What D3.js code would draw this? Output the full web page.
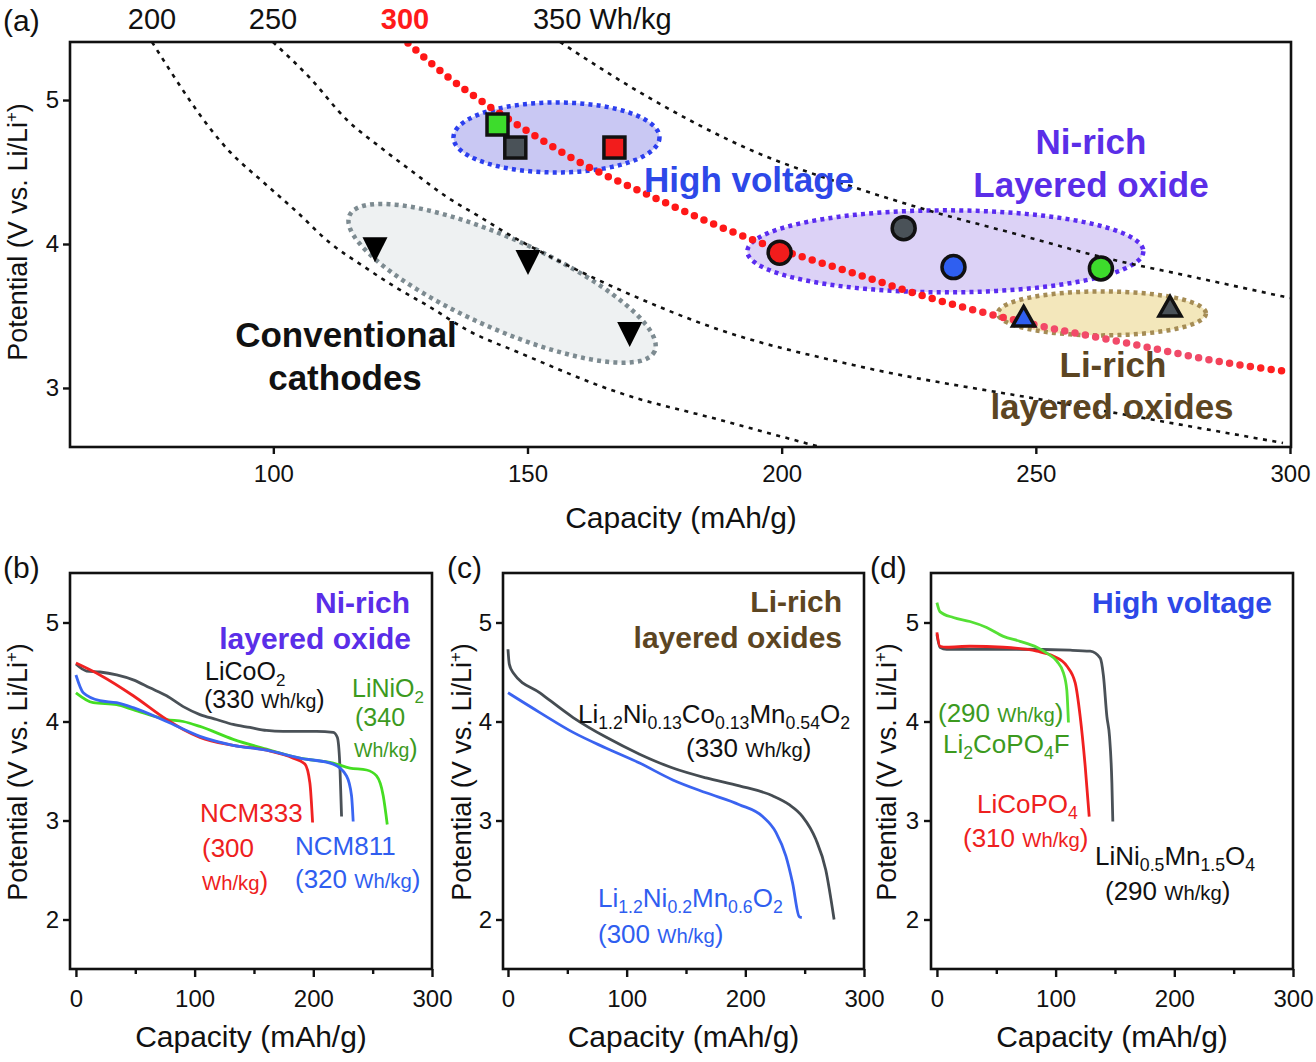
<!DOCTYPE html>
<html><head><meta charset="utf-8">
<script src="https://cdn.jsdelivr.net/npm/d3@7"></script>
<style>
body{margin:0;background:#fff}
svg{display:block}
text{font-family:"Liberation Sans",Arial,Helvetica,sans-serif}
</style>
</head><body>
<svg id="chart" width="1316" height="1062"></svg>
<script>
// ================= DATA =================
// Panel (a): iso-energy-density curves  [capacity mAh/g, potential V]
const energyLabels = ["200", "250", "300", "350 Wh/kg"];
const iso200 = [[76.13,5.403],[91.48,4.639],[97.97,4.431],[104.66,4.222],[111.15,4.007],[117.64,3.847],[124.33,3.694],[130.82,3.562],[138.10,3.403],[148.52,3.243],[168.20,2.965],[187.87,2.778],[207.54,2.590]];
const iso250 = [[99.93,5.403],[107.21,5.153],[114.49,4.861],[120.98,4.674],[127.47,4.500],[134.16,4.326],[140.66,4.188],[147.15,4.049],[153.05,3.938],[168.20,3.681],[187.87,3.403],[214.03,3.160],[254.75,2.896],[298.62,2.618]];
const iso300 = [[126.49,5.396],[134.36,5.160],[142.62,4.952],[150.88,4.764],[158.75,4.597],[174.69,4.326],[194.36,4.028],[214.03,3.799],[228.59,3.632],[248.26,3.451],[267.93,3.312],[287.61,3.174],[300.0,3.111]];
const iso350 = [[156.39,5.403],[174.69,5.000],[194.36,4.646],[214.03,4.396],[228.59,4.236],[248.26,4.049],[261.25,3.924],[280.92,3.771],[300.0,3.625]];

// Panel (a) materials
const hvNames = ["Li2CoPO4F","LiNi0.5Mn1.5O4","LiCoPO4"];
const hvCap = [144.1, 147.6, 167.1];
const hvPot = [4.83, 4.67, 4.67];
const niNames = ["NCM333","LiCoO2","NCM811","LiNiO2"];
const niCap = [199.6, 224.0, 233.8, 262.8];
const niPot = [3.94, 4.11, 3.84, 3.83];
const liNames = ["Li1.2Ni0.2Mn0.6O2","Li1.2Ni0.13Co0.13Mn0.54O2"];
const liCap = [247.6, 276.4];
const liPot = [3.476, 3.545];
const convCap = [120.0, 150.1, 170.1];
const convPot = [3.99, 3.90, 3.40];

// Panel (b) discharge curves
const bLiCoO2 = [[0,4.58],[9.0,4.51],[20.2,4.50],[34.3,4.47],[48.3,4.42],[62.3,4.34],[76.4,4.26],[90.4,4.15],[104.5,4.07],[118.5,4.02],[132.5,3.97],[146.6,3.94],[160.6,3.91],[174.7,3.90],[188.7,3.90],[202.8,3.90],[216.8,3.89],[220.2,3.84],[222.4,3.55],[223.8,3.04]];
const bNCM333 = [[0,4.59],[20.2,4.47],[48.3,4.26],[76.4,4.02],[90.4,3.92],[104.5,3.84],[132.5,3.76],[160.6,3.71],[183.1,3.63],[192.9,3.57],[197.1,3.38],[199.4,2.98]];
const bNCM811 = [[0,4.47],[6.2,4.29],[20.2,4.21],[34.3,4.19],[48.3,4.14],[76.4,4.00],[104.5,3.85],[132.5,3.76],[160.6,3.71],[188.7,3.63],[216.8,3.57],[228.0,3.45],[232.2,3.25],[233.6,2.99]];
const bLiNiO2 = [[0,4.29],[14.6,4.19],[34.3,4.17],[48.3,4.12],[76.4,4.02],[90.4,4.00],[104.5,3.95],[132.5,3.82],[160.6,3.72],[188.7,3.63],[216.8,3.58],[230.8,3.53],[244.9,3.51],[253.3,3.45],[258.9,3.25],[262.3,2.96]];

// Panel (c)
const cLiNiCoMn = [[0,4.73],[1.1,4.58],[4.5,4.49],[26.9,4.29],[54.9,4.04],[82.9,3.84],[110.9,3.67],[138.9,3.53],[167.0,3.43],[195.0,3.35],[222.9,3.25],[237.0,3.16],[248.2,3.04],[259.4,2.81],[267.8,2.50],[274.8,2.00]];
const cLiNiMn = [[0,4.29],[26.9,4.09],[54.9,3.89],[82.9,3.73],[110.9,3.58],[138.9,3.41],[167.0,3.28],[195.0,3.16],[214.6,3.04],[225.8,2.88],[234.2,2.64],[239.8,2.37],[245.4,2.03],[247.6,2.02]];

// Panel (d)
const dLi2CoPO4F = [[0,5.20],[2.5,5.11],[13.8,5.05],[27.8,5.01],[41.9,4.95],[56.0,4.86],[70.0,4.81],[84.1,4.75],[92.6,4.69],[101.0,4.61],[106.6,4.49],[109.4,4.32],[110.8,3.99]];
const dLiCoPO4 = [[0,4.90],[2.5,4.76],[8.2,4.75],[27.8,4.76],[56.0,4.75],[84.1,4.71],[98.2,4.66],[109.4,4.56],[116.5,4.39],[120.7,4.05],[124.9,3.55],[128.3,3.04]];
const dLNMO = [[0,4.88],[2.5,4.75],[8.2,4.73],[56.0,4.73],[112.4,4.72],[129.1,4.71],[137.6,4.64],[140.3,4.46],[143.2,4.05],[145.4,3.85],[147.4,3.38],[148.2,2.99]];

// Tick values
const aXTicks = [100,150,200,250,300];
const aYTicks = [3,4,5];
const smallXTicks = [0,100,200,300];
const smallXMinor = [50,150,250];
const smallYTicks = [2,3,4,5];

// ================= DRAWING =================
const FONT = '"Liberation Sans",Arial,Helvetica,sans-serif';
const svg = d3.select("#chart");
const fmt = d3.format("d");

function rich(g, x, y, parts, size, color, opts) {
  opts = opts || {};
  const t = g.append("text").attr("x", x).attr("y", y)
    .attr("fill", color).attr("font-size", size)
    .attr("font-weight", opts.weight || "normal")
    .attr("text-anchor", opts.anchor || "start");
  if (opts.transform) t.attr("transform", opts.transform);
  let shift = 0;
  parts.forEach(p => {
    const s = p[0], k = p[1] || "";
    let fs = size, target = 0;
    if (k === "sub") { fs = size * 0.68; target = size * 0.24; }
    else if (k === "sup") { fs = size * 0.62; target = -size * 0.36; }
    else if (k === "small") { fs = size * 0.78; }
    t.append("tspan").text(s).attr("font-size", fs).attr("dy", target - shift);
    shift = target;
  });
  return t;
}
const potentialLabel = [["Potential (V vs. Li/Li"],["+","sup"],[")"]];

// ---------- Panel (a) ----------
const ax = d3.scaleLinear().domain([60, 300]).range([70, 1290]);
const ay = d3.scaleLinear().domain([2.59, 5.403]).range([447, 42]);
const ga = svg.append("g");

const defs = svg.append("defs");
defs.append("clipPath").attr("id", "clipA").append("rect")
  .attr("x", 70).attr("y", 42).attr("width", 1221).attr("height", 405);
const grad = defs.append("linearGradient").attr("id", "redGrad")
  .attr("gradientUnits", "userSpaceOnUse").attr("x1", 70).attr("x2", 1291).attr("y1", 0).attr("y2", 0);
[[0,"#ff1414"],[0.72,"#ff1a1a"],[0.80,"#f24a6a"],[0.93,"#f04a68"],[0.975,"#ff2222"],[1,"#ff1a1a"]]
  .forEach(s => grad.append("stop").attr("offset", s[0]).attr("stop-color", s[1]));

// ellipses (region annotations)
function ellipsePath(cx, cy, rx, ry, angDeg) {
  return d3.range(0, 360, 3).map(a => {
    const t = a * Math.PI / 180, r = angDeg * Math.PI / 180;
    const ex = rx * Math.cos(t), ey = ry * Math.sin(t);
    return [cx + ex * Math.cos(r) - ey * Math.sin(r), cy + ex * Math.sin(r) + ey * Math.cos(r)];
  });
}
const regionShapes = [
  {c: [145.0, 3.727], rx: 167, ry: 45, ang: 24, fill: "#eef1f2", stroke: "#7d8b91"},
  {c: [155.7, 4.74], rx: 103, ry: 35, ang: 0, fill: "#c9c8f3", stroke: "#2c3fee"},
  {c: [232.2, 3.949], rx: 198, ry: 41, ang: 0, fill: "#dcd2f6", stroke: "#5a2cf0"},
  {c: [263.0, 3.518], rx: 104, ry: 22, ang: 0, fill: "#f3e7bb", stroke: "#a58c55"}
];
const lineClosed = d3.line().curve(d3.curveLinearClosed);
regionShapes.forEach(r => {
  ga.append("path").attr("d", lineClosed(ellipsePath(ax(r.c[0]), ay(r.c[1]), r.rx, r.ry, r.ang)))
    .attr("fill", r.fill).attr("stroke", r.stroke).attr("stroke-width", 4.5)
    .attr("stroke-dasharray", "4 4.2");
});

// iso-energy curves
const isoLine = d3.line().x(d => ax(d[0])).y(d => ay(d[1])).curve(d3.curveMonotoneX);
const gc = ga.append("g").attr("clip-path", "url(#clipA)");
[iso200, iso250, iso350].forEach(c => {
  gc.append("path").attr("d", isoLine(c)).attr("fill", "none")
    .attr("stroke", "#111").attr("stroke-width", 2.6).attr("stroke-dasharray", "4 5.5");
});
gc.append("path").attr("d", isoLine(iso300)).attr("fill", "none")
  .attr("stroke", "url(#redGrad)").attr("stroke-width", 7.5)
  .attr("stroke-linecap", "round").attr("stroke-dasharray", "0 10.5");

// top labels of curves
const isoTops = [iso200, iso250, iso300, iso350];
energyLabels.forEach((lab, i) => {
  const xs = ax(isoTops[i][0][0]);
  ga.append("text").text(lab)
    .attr("x", i === 3 ? xs - 27 : xs - (i === 2 ? 3 : 0)).attr("y", 29)
    .attr("text-anchor", i === 3 ? "start" : "middle")
    .attr("font-size", 29)
    .attr("font-weight", i === 2 ? "bold" : "normal")
    .attr("fill", i === 2 ? "#ff1a1a" : "#111");
});

// markers
const hvFill = ["#3ddc2c", "#4a5258", "#f21c1c"];
hvCap.forEach((c, i) => {
  ga.append("rect").attr("x", ax(c) - 10.5).attr("y", ay(hvPot[i]) - 10.5)
    .attr("width", 21).attr("height", 21).attr("fill", hvFill[i])
    .attr("stroke", "#111").attr("stroke-width", 3.5);
});
const niFill = ["#f21c1c", "#4a5258", "#2f5ff0", "#3ddc2c"];
niCap.forEach((c, i) => {
  ga.append("circle").attr("cx", ax(c)).attr("cy", ay(niPot[i])).attr("r", 11.5)
    .attr("fill", niFill[i]).attr("stroke", "#111").attr("stroke-width", 3.5);
});
const liFill = ["#2f5ff0", "#4a5258"];
liCap.forEach((c, i) => {
  const x = ax(c), y = ay(liPot[i]);
  ga.append("path").attr("d", `M${x},${y-13}L${x+11},${y+6.5}L${x-11},${y+6.5}Z`)
    .attr("fill", liFill[i]).attr("stroke", "#111").attr("stroke-width", 3.5).attr("stroke-linejoin", "miter");
});
convCap.forEach((c, i) => {
  const x = ax(c), y = ay(convPot[i]);
  ga.append("path").attr("d", `M${x-12.5},${y-8.3}L${x+12.5},${y-8.3}L${x},${y+16.7}Z`).attr("fill", "#000");
});

// frame and axes (a)
ga.append("rect").attr("x", 70).attr("y", 42).attr("width", 1221).attr("height", 405)
  .attr("fill", "none").attr("stroke", "#111").attr("stroke-width", 2.6);
const axA = ga.append("g").attr("transform", "translate(0,447)")
  .call(d3.axisBottom(ax).tickValues(aXTicks).tickFormat(fmt).tickSize(7).tickPadding(11).tickSizeOuter(0));
const ayA = ga.append("g").attr("transform", "translate(70,0)")
  .call(d3.axisLeft(ay).tickValues(aYTicks).tickFormat(fmt).tickSize(7).tickPadding(4).tickSizeOuter(0));
[axA, ayA].forEach(g => {
  g.select(".domain").remove();
  g.selectAll("line").attr("stroke", "#111").attr("stroke-width", 2.4);
  g.selectAll("text").attr("font-size", 24).attr("fill", "#111").attr("font-family", FONT);
});

// region labels (a)
ga.append("text").text("High voltage").attr("x", 644).attr("y", 192)
  .attr("font-size", 35).attr("font-weight", "bold").attr("fill", "#2d48e8");
ga.append("text").text("Ni-rich").attr("x", 1091).attr("y", 154).attr("text-anchor", "middle")
  .attr("font-size", 35).attr("font-weight", "bold").attr("fill", "#5a2ee8");
ga.append("text").text("Layered oxide").attr("x", 1091).attr("y", 197).attr("text-anchor", "middle")
  .attr("font-size", 35).attr("font-weight", "bold").attr("fill", "#5a2ee8");
ga.append("text").text("Conventional").attr("x", 346).attr("y", 347).attr("text-anchor", "middle")
  .attr("font-size", 35).attr("font-weight", "bold").attr("fill", "#111");
ga.append("text").text("cathodes").attr("x", 345).attr("y", 390).attr("text-anchor", "middle")
  .attr("font-size", 35).attr("font-weight", "bold").attr("fill", "#111");
ga.append("text").text("Li-rich").attr("x", 1113).attr("y", 377).attr("text-anchor", "middle")
  .attr("font-size", 35).attr("font-weight", "bold").attr("fill", "#5c4522");
ga.append("text").text("layered oxides").attr("x", 1112).attr("y", 419).attr("text-anchor", "middle")
  .attr("font-size", 35).attr("font-weight", "bold").attr("fill", "#5c4522");

ga.append("text").text("(a)").attr("x", 3).attr("y", 31).attr("font-size", 30).attr("fill", "#111");
rich(ga, 0, 0, potentialLabel, 27, "#111", {anchor: "middle", transform: "translate(27,232) rotate(-90)"});
ga.append("text").text("Capacity (mAh/g)").attr("x", 681).attr("y", 528).attr("text-anchor", "middle")
  .attr("font-size", 30).attr("fill", "#111");

// ---------- Small panels ----------
function panel(cfg) {
  const g = svg.append("g");
  const x = d3.scaleLinear().domain(cfg.xd).range([cfg.left, cfg.right]);
  const y = d3.scaleLinear().domain([1.5, 5.5]).range([969, 573]);
  const line = d3.line().x(d => x(d[0])).y(d => y(d[1])).curve(d3.curveMonotoneX);
  cfg.curves.forEach(c => {
    g.append("path").attr("d", line(c.data)).attr("fill", "none")
      .attr("stroke", c.color).attr("stroke-width", 2.8).attr("stroke-linejoin", "round");
  });
  g.append("rect").attr("x", cfg.left).attr("y", 573).attr("width", cfg.right - cfg.left).attr("height", 396)
    .attr("fill", "none").attr("stroke", "#111").attr("stroke-width", 2.6);
  const gx = g.append("g").attr("transform", "translate(0,969)")
    .call(d3.axisBottom(x).tickValues(smallXTicks).tickFormat(fmt).tickSize(8).tickPadding(13).tickSizeOuter(0));
  const gxm = g.append("g").attr("transform", "translate(0,969)")
    .call(d3.axisBottom(x).tickValues(smallXMinor).tickSize(5).tickFormat("").tickSizeOuter(0));
  const gy = g.append("g").attr("transform", `translate(${cfg.left},0)`)
    .call(d3.axisLeft(y).tickValues(smallYTicks).tickFormat(fmt).tickSize(7).tickPadding(cfg.ypad).tickSizeOuter(0));
  [gx, gxm, gy].forEach(a => {
    a.select(".domain").remove();
    a.selectAll("line").attr("stroke", "#111").attr("stroke-width", 2.4);
    a.selectAll("text").attr("font-size", 24).attr("fill", "#111").attr("font-family", FONT);
  });
  g.append("text").text(cfg.letter).attr("x", cfg.letterX).attr("y", 578).attr("font-size", 30).attr("fill", "#111");
  rich(g, 0, 0, potentialLabel, 27, "#111", {anchor: "middle", transform: `translate(${cfg.ylabX},772) rotate(-90)`});
  g.append("text").text("Capacity (mAh/g)").attr("x", (cfg.left + cfg.right) / 2).attr("y", 1047)
    .attr("text-anchor", "middle").attr("font-size", 30).attr("fill", "#111");
  return g;
}

// (b)
const gb = panel({xd: [-5, 300], left: 70, right: 432, ypad: 4, letter: "(b)", letterX: 3, ylabX: 27,
  curves: [
    {data: bLiCoO2, color: "#4a5157"},
    {data: bLiNiO2, color: "#45dd22"},
    {data: bNCM333, color: "#f02222"},
    {data: bNCM811, color: "#3a66f2"}
  ]});
gb.append("text").text("Ni-rich").attr("x", 410).attr("y", 613).attr("text-anchor", "end")
  .attr("font-size", 30).attr("font-weight", "bold").attr("fill", "#5a2ee8");
gb.append("text").text("layered oxide").attr("x", 411).attr("y", 649).attr("text-anchor", "end")
  .attr("font-size", 30).attr("font-weight", "bold").attr("fill", "#5a2ee8");
rich(gb, 205, 680, [["LiCoO"],["2","sub"]], 25, "#111");
rich(gb, 204, 708, [["(330 "],["Wh/kg","small"],[")"]], 25, "#111");
rich(gb, 352, 697, [["LiNiO"],["2","sub"]], 25, "#3c9a1e");
rich(gb, 355, 726, [["(340"]], 25, "#3c9a1e");
rich(gb, 354, 757, [["Wh/kg","small"],[")"]], 25, "#3c9a1e");
rich(gb, 200, 822, [["NCM333"]], 26, "#ee2020");
rich(gb, 202, 857, [["(300"]], 26, "#ee2020");
rich(gb, 202, 890, [["Wh/kg","small"],[")"]], 26, "#ee2020");
rich(gb, 295, 855, [["NCM811"]], 26, "#2f5ef0");
rich(gb, 295, 888, [["(320 "],["Wh/kg","small"],[")"]], 26, "#2f5ef0");

// (c)
const gcP = panel({xd: [-4.2, 300], left: 503, right: 864, ypad: 4, letter: "(c)", letterX: 447, ylabX: 471,
  curves: [
    {data: cLiNiCoMn, color: "#454c52"},
    {data: cLiNiMn, color: "#3a63f0"}
  ]});
gcP.append("text").text("Li-rich").attr("x", 842).attr("y", 612).attr("text-anchor", "end")
  .attr("font-size", 30).attr("font-weight", "bold").attr("fill", "#5c4522");
gcP.append("text").text("layered oxides").attr("x", 842).attr("y", 648).attr("text-anchor", "end")
  .attr("font-size", 30).attr("font-weight", "bold").attr("fill", "#5c4522");
rich(gcP, 578, 723, [["Li"],["1.2","sub"],["Ni"],["0.13","sub"],["Co"],["0.13","sub"],["Mn"],["0.54","sub"],["O"],["2","sub"]], 26, "#111");
rich(gcP, 686, 757, [["(330 "],["Wh/kg","small"],[")"]], 26, "#111");
rich(gcP, 598, 907, [["Li"],["1.2","sub"],["Ni"],["0.2","sub"],["Mn"],["0.6","sub"],["O"],["2","sub"]], 26, "#2f5ef0");
rich(gcP, 598, 943, [["(300 "],["Wh/kg","small"],[")"]], 26, "#2f5ef0");

// (d)
const gd = panel({xd: [-5, 300], left: 931, right: 1293, ypad: 5, letter: "(d)", letterX: 870, ylabX: 896,
  curves: [
    {data: dLNMO, color: "#4a5157"},
    {data: dLiCoPO4, color: "#f02020"},
    {data: dLi2CoPO4F, color: "#55e035"}
  ]});
gd.append("text").text("High voltage").attr("x", 1272).attr("y", 613).attr("text-anchor", "end")
  .attr("font-size", 30).attr("font-weight", "bold").attr("fill", "#2d48e8");
rich(gd, 938, 722, [["(290 "],["Wh/kg","small"],[")"]], 26, "#3c9a1e");
rich(gd, 943, 753, [["Li"],["2","sub"],["CoPO"],["4","sub"],["F"]], 26, "#3c9a1e");
rich(gd, 977, 813, [["LiCoPO"],["4","sub"]], 26, "#ee2020");
rich(gd, 963, 847, [["(310 "],["Wh/kg","small"],[")"]], 26, "#ee2020");
rich(gd, 1095, 865, [["LiNi"],["0.5","sub"],["Mn"],["1.5","sub"],["O"],["4","sub"]], 26, "#111");
rich(gd, 1105, 900, [["(290 "],["Wh/kg","small"],[")"]], 26, "#111");
</script>
</body></html>
